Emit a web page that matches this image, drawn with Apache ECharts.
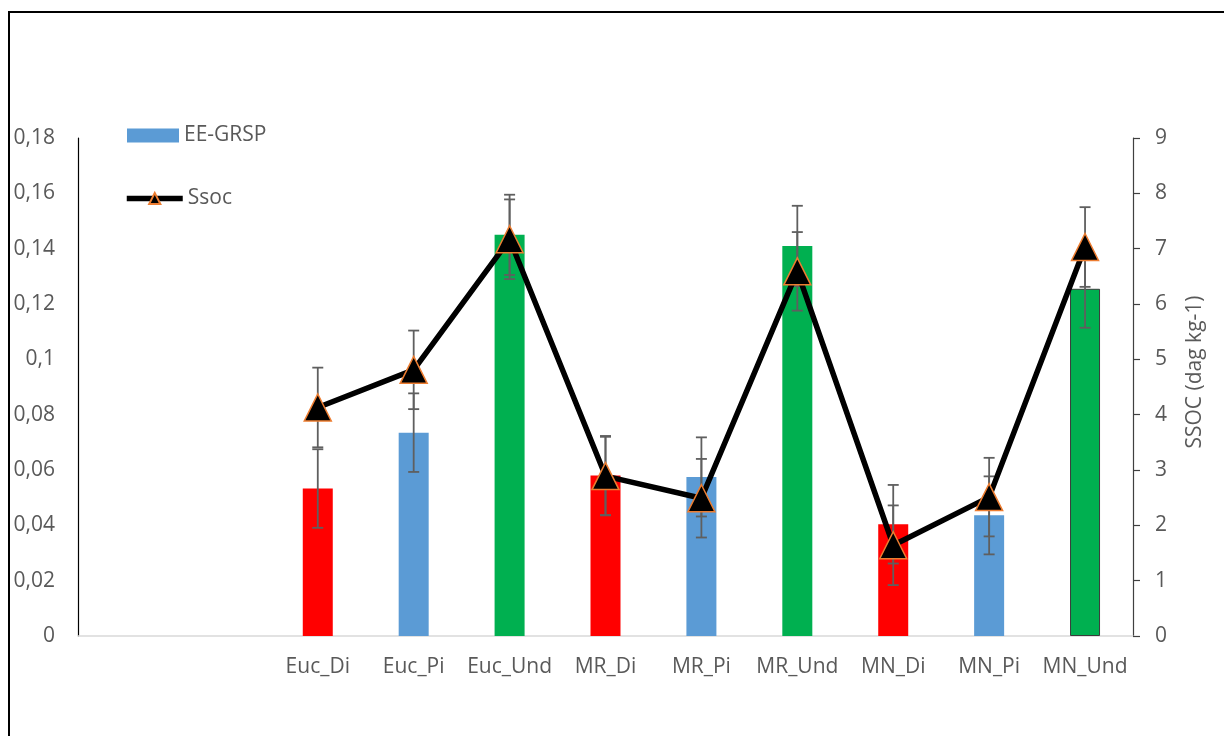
<!DOCTYPE html>
<html>
<head>
<meta charset="utf-8">
<script src="https://cdn.jsdelivr.net/npm/echarts@6/dist/echarts.min.js"></script>
<style>
  html, body { margin: 0; padding: 0; background: #fff; }
  #chart { width: 1224px; height: 736px; }
</style>
</head>
<body>
<div id="chart"></div>
<script>
// Treatments (two leading empty slots on the category axis)
const categories = ['', '', 'Euc_Di', 'Euc_Pi', 'Euc_Und', 'MR_Di', 'MR_Pi', 'MR_Und', 'MN_Di', 'MN_Pi', 'MN_Und'];

// EE-GRSP (left axis) with standard errors
const grsp    = [null, null, 0.0533, 0.0735, 0.145, 0.058, 0.0575, 0.141, 0.0404, 0.0436, 0.1255];
const grspErr = [null, null, 0.0142, 0.0142, 0.0145, 0.0143, 0.0143, 0.0145, 0.0142, 0.0141, 0.0141];

// Ssoc (right axis, dag kg-1) with standard errors
const ssoc    = [null, null, 4.13, 4.81, 7.17, 2.89, 2.49, 6.59, 1.64, 2.51, 7.03];
const ssocErr = [null, null, 0.72, 0.71, 0.72, 0.71, 0.71, 0.71, 0.72, 0.71, 0.72];

// Bar fill per land use: disturbed, pine, undisturbed
const useColors = { Di: '#ff0000', Pi: '#5b9bd5', Und: '#00b050' };

const FONT = 'Open Sans';
const TXT = '#595959';
const ERR = '#5f5f5f';

function useColor(name) {
  const key = name.split('_')[1];
  return useColors[key] || '#5b9bd5';
}

const barData = grsp.map((v, i) => {
  if (v === null) return null;
  const item = { value: v, itemStyle: { color: useColor(categories[i]) } };
  if (categories[i] === 'MN_Und') {
    item.itemStyle.borderColor = '#3a3a3a';
    item.itemStyle.borderWidth = 1;
  }
  return item;
});

function errData(vals, errs) {
  const out = [];
  vals.forEach((v, i) => {
    if (v !== null) out.push([i, v - errs[i], v + errs[i]]);
  });
  return out;
}

function renderErr(params, api) {
  const x = api.value(0);
  const lo = api.coord([x, api.value(1)]);
  const hi = api.coord([x, api.value(2)]);
  const hw = 5.5;
  const st = { stroke: ERR, lineWidth: 1.8 };
  return {
    type: 'group',
    children: [
      { type: 'line', shape: { x1: lo[0], y1: lo[1], x2: hi[0], y2: hi[1] }, style: st },
      { type: 'line', shape: { x1: lo[0] - hw, y1: lo[1], x2: lo[0] + hw, y2: lo[1] }, style: st },
      { type: 'line', shape: { x1: hi[0] - hw, y1: hi[1], x2: hi[0] + hw, y2: hi[1] }, style: st }
    ]
  };
}

function commaFmt(v) {
  return String(+v.toFixed(2)).replace('.', ',');
}

const chart = echarts.init(document.getElementById('chart'), null, { renderer: 'canvas' });

chart.setOption({
  animation: false,
  backgroundColor: '#ffffff',
  textStyle: { fontFamily: FONT },
  graphic: [
    {
      type: 'rect',
      shape: { x: 9, y: 12, width: 1400, height: 900 },
      style: { fill: 'none', stroke: '#000000', lineWidth: 2 },
      silent: true
    },
    {
      type: 'text',
      x: 1195,
      y: 372,
      rotation: Math.PI / 2,
      style: {
        text: 'SSOC (dag kg-1)',
        fill: TXT,
        font: '21px "Open Sans"',
        align: 'center',
        verticalAlign: 'middle'
      }
    }
  ],
  legend: [
    {
      data: ['EE-GRSP'],
      left: 127,
      top: 125,
      padding: 0,
      itemWidth: 52,
      itemHeight: 14,
      icon: 'rect',
      textStyle: { color: TXT, fontSize: 21, fontFamily: FONT },
      selectedMode: false
    },
    {
      data: ['Ssoc'],
      left: 124,
      top: 188,
      padding: 0,
      itemWidth: 56,
      itemHeight: 14,
      lineStyle: { width: 5.5, color: '#000000' },
      textStyle: { color: TXT, fontSize: 21, fontFamily: FONT },
      selectedMode: false
    }
  ],
  grid: { left: 78, right: 91, top: 138, bottom: 100, containLabel: false },
  xAxis: {
    type: 'category',
    data: categories,
    axisLine: { show: true, lineStyle: { color: '#d9d9d9', width: 1.5 } },
    axisTick: { show: false },
    axisLabel: { color: TXT, fontSize: 21, fontFamily: FONT, margin: 21, interval: 0 }
  },
  yAxis: [
    {
      type: 'value',
      min: 0,
      max: 0.18,
      interval: 0.02,
      position: 'left',
      axisLine: { show: true, lineStyle: { color: '#000000', width: 1.2 } },
      axisTick: { show: false },
      splitLine: { show: false },
      axisLabel: { color: TXT, fontSize: 21, fontFamily: FONT, margin: 23, formatter: commaFmt }
    },
    {
      type: 'value',
      min: 0,
      max: 9,
      interval: 1,
      position: 'right',
      axisLine: { show: true, lineStyle: { color: '#404040', width: 1.2 } },
      axisTick: { show: true, inside: false, length: 7, lineStyle: { color: '#404040', width: 1.2 } },
      splitLine: { show: false },
      axisLabel: { color: TXT, fontSize: 21, fontFamily: FONT, margin: 22 }
    }
  ],
  series: [
    {
      name: 'EE-GRSP',
      type: 'bar',
      yAxisIndex: 0,
      barWidth: 30,
      itemStyle: { color: '#5b9bd5' },
      data: barData,
      z: 2
    },
    {
      name: 'EE-GRSP err',
      type: 'custom',
      yAxisIndex: 0,
      renderItem: renderErr,
      data: errData(grsp, grspErr),
      z: 3,
      silent: true
    },
    {
      name: 'Ssoc err',
      type: 'custom',
      yAxisIndex: 1,
      renderItem: renderErr,
      data: errData(ssoc, ssocErr),
      z: 3,
      silent: true
    },
    {
      name: 'Ssoc',
      type: 'line',
      yAxisIndex: 1,
      data: ssoc,
      symbol: 'triangle',
      symbolSize: [27, 27],
      lineStyle: { color: '#000000', width: 5.5 },
      itemStyle: { color: '#000000', borderColor: '#ed7d31', borderWidth: 1.5 },
      z: 4
    }
  ]
});
</script>
</body>
</html>
